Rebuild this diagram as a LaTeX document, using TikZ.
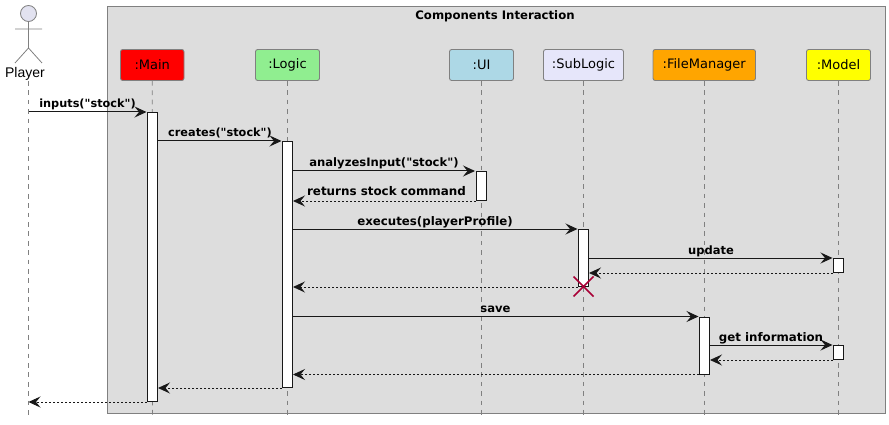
\documentclass[tikz,border=0pt]{standalone}
\usepackage{fontspec}
\newfontfamily\labfont{DejaVu Sans}
\newfontfamily\plainfont{Liberation Sans}
\usetikzlibrary{arrows.meta}
\definecolor{groupfill}{HTML}{DDDDDD}
\definecolor{edge}{HTML}{181818}
\definecolor{lifecol}{HTML}{808080}
\definecolor{actorfill}{HTML}{E2E2F0}
\definecolor{killcol}{HTML}{A80036}
\definecolor{cmain}{HTML}{FF0000}
\definecolor{clogic}{HTML}{90EE90}
\definecolor{cui}{HTML}{ADD8E6}
\definecolor{csub}{HTML}{E6E6FA}
\definecolor{cfm}{HTML}{FFA500}
\definecolor{cmodel}{HTML}{FFFF00}
\tikzset{
 x=1pt,y=-1pt,
 part/.style={draw=lifecol,line width=.9pt,rounded corners=2.2pt,minimum height=31pt,inner sep=0pt,text=black,font=\labfont\fontsize{13}{14}\selectfont},
 life/.style={draw=lifecol,line width=.7pt,dash pattern=on 4.7pt off 4.7pt},
 act/.style={draw=edge,fill=white,line width=1pt,minimum width=10pt,inner sep=0pt,anchor=north},
 tip/.style={-{Stealth[length=12pt,width=11pt,inset=4.5pt,color=edge]}},
 msg/.style={tip,draw=edge,line width=1pt,shorten >=.5pt},
 ret/.style={tip,draw=edge,line width=.9pt,dash pattern=on 2pt off 2pt},
 lab/.style={font=\labfont\bfseries\fontsize{#1}{13}\selectfont,text=black,inner sep=0pt,anchor=base},
 actorline/.style={draw=lifecol,line width=.8pt},
}
\begin{document}
\begin{tikzpicture}
\useasboundingbox (0,0) rectangle (889,425);
\node[draw=lifecol,fill=groupfill,line width=.9pt,minimum width=778pt,minimum height=406.5pt,inner sep=0pt,anchor=north west] (grp) at (106.5,6.5) {};
\node[lab=11.7] (grpt) at (495,19.5) {Components Interaction};
% participants
\node[part,fill=cmain,minimum width=63.5pt] (ma) at (152.25,65) {:Main};
\node[part,fill=clogic,minimum width=64pt] (lo) at (287.5,65) {:Logic};
\node[part,fill=cui,minimum width=64pt] (ui) at (481.5,65) {:UI};
\node[part,fill=csub,minimum width=80pt] (su) at (583.5,65) {:SubLogic};
\node[part,fill=cfm,minimum width=102.5pt] (fm) at (704.25,65) {:FileManager};
\node[part,fill=cmodel,minimum width=64pt] (mo) at (838.5,65) {:Model};
% actor
\node[circle,draw=lifecol,fill=actorfill,line width=.8pt,minimum size=16pt,inner sep=0pt] (plh) at (28.5,13.5) {};
\coordinate (plw) at (28.5,48);
\coordinate (plal) at (15,29);
\coordinate (plar) at (42,29);
\coordinate (plll) at (15,63);
\coordinate (pllr) at (42,63);
\draw[actorline] (plh.south) -- (plw) (plal) -- (plar) (plll) -- (plw) -- (pllr);
\node[font=\plainfont\fontsize{14}{16}\selectfont,inner sep=0pt,anchor=base] (pl) at (25,78) {Player};
% lifelines
\coordinate (plt) at (28.5,81);
\coordinate (plb) at (28.5,417);
\coordinate (mab) at (152.5,417);
\coordinate (lob) at (287.5,417);
\coordinate (uib) at (481,417);
\coordinate (sub) at (583.5,417);
\coordinate (fmb) at (704.5,417);
\coordinate (mob) at (838.5,417);
\draw[life] (plt) -- (plb);
\draw[life] (ma.south) -- (mab);
\draw[life] (lo.south) -- (lob);
\draw[life] (ui.south -| uib) -- (uib);
\draw[life] (su.south) -- (sub);
\draw[life] (fm.south -| fmb) -- (fmb);
\draw[life] (mo.south) -- (mob);
% activations
\node[act,minimum height=289pt] (ma1) at (152.5,112) {};
\node[act,minimum height=246pt] (lo1) at (287.5,141) {};
\node[act,minimum height=29pt] (ui1) at (481,171) {};
\node[act,minimum height=57pt] (su1) at (583.5,229) {};
\node[act,minimum height=57pt] (fm1) at (704.5,316.5) {};
\node[act,minimum height=14pt] (mo1) at (838.5,258) {};
\node[act,minimum height=14pt] (mo2) at (838.5,345) {};
% messages
\draw[msg] (plt |- ma1.north) -- (ma1.north west);
\draw[msg] (ma1.east |- lo1.north) -- (lo1.north west);
\draw[msg] (lo1.east |- ui1.north) -- (ui1.north west);
\draw[ret] (ui1.south west) -- (lo1.east |- ui1.south);
\draw[msg] (lo1.east |- su1.north) -- (su1.north west);
\draw[msg] (su1.east |- mo1.north) -- (mo1.north west);
\draw[ret] (mo1.south west) -- (su1.east |- mo1.south);
\draw[ret] (su1.south west) -- (lo1.east |- su1.south);
\draw[msg] (lo1.east |- fm1.north) -- (fm1.north west);
\draw[msg] (fm1.east |- mo2.north) -- (mo2.north west);
\draw[ret] (mo2.south west) -- (fm1.east |- mo2.south);
\draw[ret] (fm1.south west) -- (lo1.east |- fm1.south);
\draw[ret] (lo1.south west) -- (ma1.east |- lo1.south);
\draw[ret] (ma1.south west) -- (plt |- ma1.south);
% destroy
\coordinate (kill) at (583.5,286.5);
\draw[killcol,line width=1.5pt] ([shift={(-10,-10)}]kill) -- ([shift={(10,10)}]kill) ([shift={(-10,10)}]kill) -- ([shift={(10,-10)}]kill);
% labels
\node[lab=11.3] (l1) at (87.5,108) {inputs("stock")};
\node[lab=11.3] (l2) at (220,137) {creates("stock")};
\node[lab=11.6] (l3) at (384,167) {analyzesInput("stock")};
\node[lab=11.9] (l4) at (386.5,196) {returns stock command};
\node[lab=11.8] (l5) at (435,225) {executes(playerProfile)};
\node[lab=11.5] (l6) at (711,254) {update};
\node[lab=11.6] (l7) at (495.5,312) {save};
\node[lab=11.8] (l8) at (771,341) {get information};
\end{tikzpicture}
\end{document}
